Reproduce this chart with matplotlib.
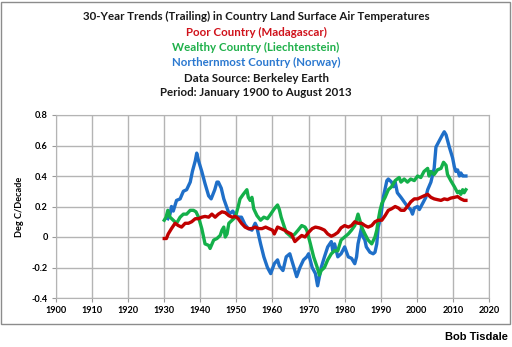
import matplotlib
matplotlib.use("Agg")
import matplotlib.pyplot as plt
from matplotlib.patches import Rectangle

# Madagascar (poor country) 30-yr trailing trends, deg C/decade
mad_years = [1930.0, 1930.6, 1931.1, 1932.0, 1933.0, 1933.9, 1934.8, 1935.8, 1936.7, 1937.6,
             1938.6, 1939.5, 1940.4, 1941.3, 1942.3, 1943.2, 1944.1, 1945.0, 1946.0, 1946.9,
             1947.9, 1948.8, 1949.7, 1950.5, 1951.4, 1952.4, 1953.3, 1954.3, 1955.2, 1956.2,
             1957.1, 1958.1, 1959.0, 1960.0, 1960.5, 1961.0, 1961.4, 1962.4, 1963.3, 1964.3,
             1965.2, 1966.2, 1967.1, 1968.1, 1969.0, 1970.0, 1971.0, 1971.9, 1972.9, 1973.5,
             1974.4, 1975.3, 1976.3, 1977.2, 1978.1, 1979.0, 1980.0, 1981.0, 1981.9, 1982.8,
             1983.7, 1984.7, 1985.6, 1986.5, 1987.5, 1988.4, 1989.3, 1990.3, 1991.2, 1992.1,
             1993.0, 1994.0, 1994.9, 1995.6, 1996.5, 1997.4, 1998.3, 1999.3, 2000.2, 2001.1,
             2002.0, 2003.0, 2003.9, 2004.8, 2005.7, 2006.7, 2007.6, 2008.5, 2009.4, 2010.4,
             2011.3, 2012.2, 2013.1, 2013.6]
mad_vals = [-0.01, -0.01, 0.02, 0.055, 0.09, 0.075, 0.065, 0.09, 0.09, 0.10,
            0.12, 0.12, 0.13, 0.135, 0.13, 0.15, 0.13, 0.15, 0.165, 0.16,
            0.14, 0.13, 0.135, 0.12, 0.09, 0.065, 0.055, 0.055, 0.065, 0.055,
            0.055, 0.065, 0.055, 0.045, 0.02, 0.045, 0.065, 0.055, 0.045, 0.03,
            0.02, -0.03, -0.01, 0.01, 0.0, 0.03, 0.055, 0.065, 0.06, 0.055,
            0.045, 0.02, 0.005, 0.015, 0.03, 0.06, 0.075, 0.065, 0.075, 0.10,
            0.09, 0.09, 0.075, 0.065, 0.075, 0.10, 0.11, 0.11, 0.14, 0.175,
            0.185, 0.20, 0.19, 0.175, 0.175, 0.20, 0.23, 0.25, 0.25, 0.26,
            0.27, 0.28, 0.26, 0.25, 0.245, 0.24, 0.25, 0.245, 0.255, 0.26,
            0.265, 0.25, 0.24, 0.24]

# Liechtenstein (wealthy country)
lie_years = [1930.0, 1930.5, 1931.0, 1931.6, 1932.5, 1933.4, 1934.4, 1935.3, 1936.2, 1937.2,
             1938.1, 1938.8, 1939.5, 1940.4, 1940.9, 1941.3, 1942.3, 1942.7, 1943.7, 1944.6,
             1945.5, 1946.0, 1946.5, 1946.9, 1947.4, 1947.9, 1948.8, 1949.7, 1950.5, 1951.0,
             1951.9, 1952.9, 1953.3, 1953.8, 1954.3, 1954.8, 1955.7, 1956.7, 1957.6, 1958.6,
             1959.5, 1960.5, 1961.4, 1961.9, 1962.4, 1963.3, 1963.8, 1964.8, 1965.2, 1966.2,
             1967.1, 1968.1, 1969.0, 1969.5, 1970.5, 1971.4, 1972.4, 1973.0, 1973.5, 1974.4,
             1975.3, 1976.3, 1977.2, 1978.1, 1979.0, 1980.0, 1981.0, 1981.9, 1982.8, 1983.7,
             1984.2, 1984.7, 1985.6, 1986.5, 1987.5, 1988.4, 1988.9, 1989.3, 1989.8, 1990.3,
             1991.2, 1992.1, 1993.0, 1994.0, 1995.1, 1995.6, 1996.5, 1997.4, 1998.3, 1999.3,
             2000.2, 2001.1, 2002.0, 2003.0, 2003.4, 2003.9, 2004.8, 2005.7, 2006.7, 2007.4,
             2008.1, 2008.5, 2009.4, 2010.4, 2011.3, 2011.8, 2012.2, 2012.7, 2013.1, 2013.6]
lie_vals = [0.11, 0.13, 0.175, 0.13, 0.11, 0.09, 0.13, 0.15, 0.15, 0.175,
            0.175, 0.165, 0.13, 0.055, 0.0, -0.045, -0.055, -0.075, -0.02, -0.01,
            0.01, 0.045, 0.065, 0.0, 0.02, 0.09, 0.11, 0.13, 0.20, 0.25,
            0.28, 0.31, 0.26, 0.24, 0.26, 0.185, 0.14, 0.11, 0.13, 0.12,
            0.15, 0.185, 0.21, 0.18, 0.13, 0.065, 0.03, 0.01, 0.0, 0.02,
            0.045, 0.075, 0.065, 0.045, -0.045, -0.13, -0.20, -0.25, -0.22, -0.20,
            -0.15, -0.11, -0.09, -0.09, -0.02, 0.0, 0.02, 0.045, 0.075, 0.15,
            0.11, 0.065, 0.02, -0.02, -0.045, 0.0, 0.045, 0.11, 0.175, 0.22,
            0.26, 0.31, 0.33, 0.37, 0.39, 0.36, 0.38, 0.36, 0.38, 0.37,
            0.40, 0.39, 0.43, 0.45, 0.40, 0.43, 0.41, 0.44, 0.45, 0.49,
            0.47, 0.41, 0.37, 0.33, 0.29, 0.30, 0.28, 0.31, 0.29, 0.31]

# Norway (northernmost country)
nor_years = [1931.0, 1931.6, 1932.0, 1932.5, 1933.4, 1934.4, 1935.3, 1936.2, 1937.2, 1937.8,
             1938.6, 1939.0, 1939.5, 1940.4, 1941.3, 1942.3, 1943.0, 1944.0, 1944.6, 1945.0,
             1945.8, 1946.5, 1947.4, 1948.0, 1949.0, 1949.7, 1950.6, 1951.4, 1952.4, 1953.3,
             1954.3, 1955.2, 1955.6, 1956.7, 1957.6, 1958.6, 1959.5, 1960.5, 1961.4, 1961.9,
             1962.9, 1963.8, 1964.8, 1965.3, 1966.2, 1966.7, 1967.6, 1968.6, 1969.5, 1970.0,
             1971.0, 1971.9, 1972.5, 1973.0, 1973.5, 1974.4, 1975.3, 1976.3, 1976.7, 1977.2,
             1978.1, 1979.0, 1980.0, 1981.0, 1981.9, 1982.8, 1983.3, 1983.7, 1984.7, 1985.1,
             1985.6, 1986.0, 1987.0, 1987.9, 1988.4, 1988.9, 1989.3, 1990.0, 1990.7, 1991.7,
             1992.1, 1993.0, 1993.5, 1994.0, 1994.6, 1995.6, 1996.5, 1997.4, 1998.3, 1998.8,
             1999.3, 2000.2, 2000.7, 2001.6, 2002.5, 2003.0, 2003.9, 2004.8, 2005.3, 2006.2,
             2007.1, 2007.6, 2008.1, 2009.0, 2009.9, 2010.4, 2010.8, 2011.3, 2011.8, 2012.2,
             2012.7, 2013.1, 2013.6]
nor_vals = [0.12, 0.15, 0.20, 0.17, 0.24, 0.25, 0.30, 0.31, 0.36, 0.43,
            0.50, 0.55, 0.50, 0.43, 0.35, 0.27, 0.25, 0.31, 0.36, 0.36,
            0.32, 0.25, 0.19, 0.15, 0.17, 0.14, 0.13, 0.13, 0.08, 0.055,
            0.045, 0.09, 0.07, -0.045, -0.13, -0.20, -0.24, -0.175, -0.15, -0.19,
            -0.22, -0.13, -0.11, -0.15, -0.22, -0.26, -0.20, -0.15, -0.13, -0.11,
            -0.20, -0.24, -0.32, -0.26, -0.20, -0.13, -0.065, -0.03, -0.09, -0.045,
            -0.13, -0.11, -0.065, -0.13, -0.14, -0.175, -0.13, -0.045, 0.065, 0.0,
            -0.02, -0.065, -0.10, -0.11, -0.10, -0.045, 0.065, 0.13, 0.26, 0.37,
            0.38, 0.36, 0.33, 0.36, 0.29, 0.26, 0.23, 0.20, 0.18, 0.15,
            0.19, 0.20, 0.18, 0.22, 0.26, 0.31, 0.36, 0.45, 0.59, 0.63,
            0.67, 0.69, 0.67, 0.59, 0.52, 0.46, 0.43, 0.44, 0.40, 0.42,
            0.40, 0.40, 0.40]

title_lines = [
    ("30-Year Trends (Trailing) in Country Land Surface Air Temperatures", "#1a1a1a"),
    ("Poor Country (Madagascar)", "#d0121b"),
    ("Wealthy Country (Liechtenstein)", "#1fb04a"),
    ("Northernmost Country (Norway)", "#2a78d0"),
    ("Data Source: Berkeley Earth", "#1a1a1a"),
    ("Period: January 1900 to August 2013", "#1a1a1a"),
]

fig = plt.figure(figsize=(5.12, 3.47), dpi=100)
fig.patches.append(Rectangle((1 / 512, 1 - 324 / 347), 509 / 512, 322 / 347,
                             transform=fig.transFigure, fill=False,
                             edgecolor="#8c8c8c", linewidth=1.0))

ax = fig.add_axes([56 / 512, 1 - 298 / 347, 433 / 512, 183 / 347])
ax.plot(nor_years, nor_vals, color="#1f6fc8", lw=2.4)
ax.plot(lie_years, lie_vals, color="#14b04a", lw=2.4)
ax.plot(mad_years, mad_vals, color="#c00000", lw=2.4)

ax.set_xlim(1900, 2020)
ax.set_ylim(-0.4, 0.8)
ax.set_xticks(range(1900, 2021, 10))
ax.set_yticks([-0.4, -0.2, 0, 0.2, 0.4, 0.6, 0.8])
ax.set_yticklabels(["-0.4", "-0.2", "0", "0.2", "0.4", "0.6", "0.8"])
ax.grid(True, color="#b4b4b4", lw=1.0)
ax.set_axisbelow(True)
for s in ax.spines.values():
    s.set_color("#b4b4b4")
ax.tick_params(length=3, color="#9a9a9a", labelsize=6.6, pad=3)
for lab in ax.get_xticklabels() + ax.get_yticklabels():
    lab.set_fontweight("bold")
    lab.set_family("Lato")
ax.set_ylabel("Deg C/Decade", fontsize=6.6, fontweight="bold", family="Lato", labelpad=5)

ys = [16, 32, 47, 62, 78, 93]
for (txt, col), y in zip(title_lines, ys):
    fig.text(0.5, 1 - y / 347, txt, ha="center", va="center", color=col,
             fontsize=8.3, fontweight="bold", family="Lato")

fig.text(508 / 512, 1 - 337 / 347, "Bob Tisdale", ha="right", va="center",
         fontsize=8, fontweight="bold", family="Liberation Sans")

fig.savefig("out.png", dpi=100)
